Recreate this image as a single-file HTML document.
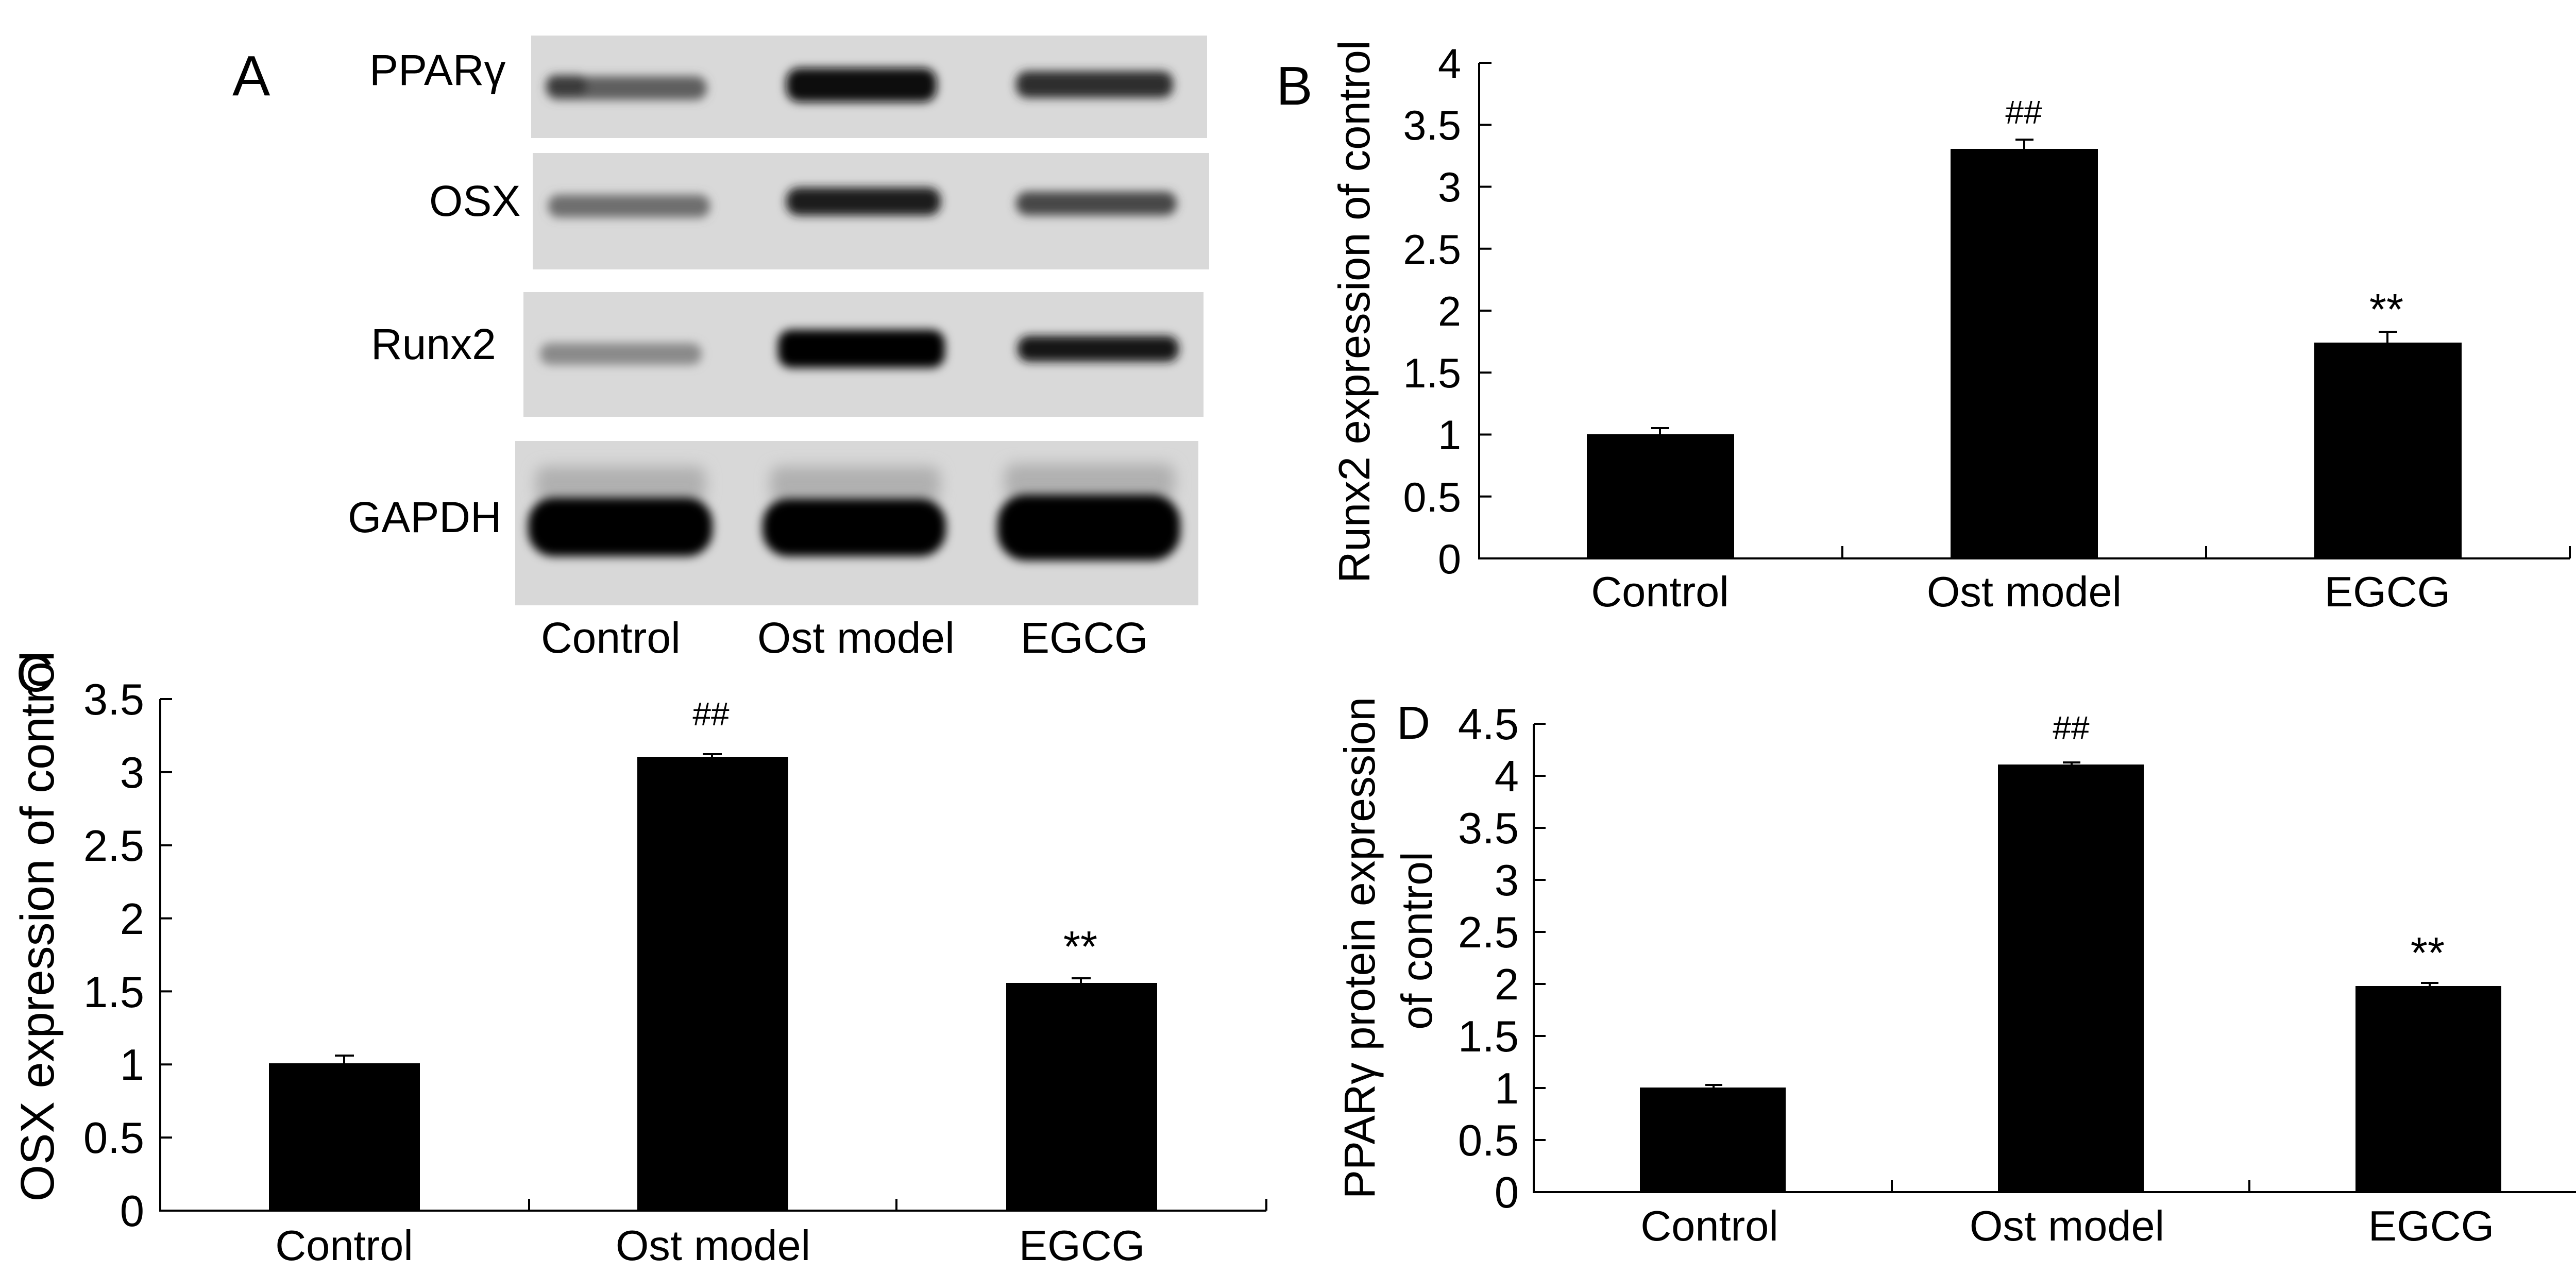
<!DOCTYPE html>
<html>
<head>
<meta charset="utf-8">
<style>
html,body{margin:0;padding:0;background:#fff;}
body{width:5100px;height:2473px;overflow:hidden;}
svg{display:block;}
text{font-family:"Liberation Sans",Arial,sans-serif;fill:#000;}
</style>
</head>
<body>
<svg width="5100" height="2473" viewBox="0 0 5100 2473" xmlns="http://www.w3.org/2000/svg">
<defs>
  <filter id="b1" x="-20%" y="-50%" width="140%" height="200%"><feGaussianBlur stdDeviation="9"/></filter>
  <filter id="b2" x="-20%" y="-80%" width="140%" height="260%"><feGaussianBlur stdDeviation="14"/></filter>
</defs>
<rect width="5100" height="2473" fill="#fff"/>

<!-- ============ PANEL A (blots) ============ -->
<text x="451" y="185" font-size="110">A</text>
<text x="717" y="165" font-size="84">PPARγ</text>
<text x="833" y="419" font-size="84">OSX</text>
<text x="720" y="697" font-size="84">Runx2</text>
<text x="675" y="1033" font-size="84">GAPDH</text>

<!-- strip 1 PPARg -->
<rect x="1031" y="69" width="1312" height="199" fill="#d9d9d9"/>
<g filter="url(#b1)">
  <rect x="1060" y="148" width="312" height="46" rx="22" fill="#5e5e5e"/>
  <rect x="1060" y="146" width="80" height="40" rx="18" fill="#3a3a3a"/>
  <rect x="1526" y="132" width="292" height="66" rx="26" fill="#0e0e0e"/>
  <rect x="1972" y="138" width="305" height="52" rx="22" fill="#2e2e2e"/>
</g>
<!-- strip 2 OSX -->
<rect x="1034" y="297" width="1313" height="226" fill="#d9d9d9"/>
<g filter="url(#b1)">
  <rect x="1064" y="378" width="314" height="44" rx="20" fill="#6e6e6e"/>
  <rect x="1526" y="364" width="300" height="54" rx="24" fill="#1c1c1c"/>
  <rect x="1972" y="372" width="312" height="46" rx="22" fill="#474747"/>
</g>
<!-- strip 3 Runx2 -->
<rect x="1016" y="567" width="1320" height="242" fill="#d9d9d9"/>
<g filter="url(#b1)">
  <rect x="1048" y="666" width="314" height="42" rx="20" fill="#8a8a8a"/>
  <rect x="1510" y="640" width="324" height="74" rx="26" fill="#050505"/>
  <rect x="1975" y="652" width="313" height="50" rx="22" fill="#161616"/>
</g>
<!-- strip 4 GAPDH -->
<rect x="1000" y="856" width="1326" height="319" fill="#d8d8d8"/>
<g filter="url(#b2)">
  <rect x="1040" y="905" width="330" height="70" rx="20" fill="#b0b0b0"/>
  <rect x="1495" y="905" width="330" height="70" rx="20" fill="#b0b0b0"/>
  <rect x="1950" y="900" width="330" height="70" rx="20" fill="#b0b0b0"/>
</g>
<g filter="url(#b1)">
  <rect x="1025" y="966" width="358" height="114" rx="50" fill="#000"/>
  <rect x="1480" y="968" width="356" height="112" rx="50" fill="#000"/>
  <rect x="1936" y="960" width="355" height="128" rx="55" fill="#000"/>
</g>

<text x="1050" y="1267" font-size="84">Control</text>
<text x="1470" y="1267" font-size="84">Ost model</text>
<text x="1981" y="1267" font-size="84">EGCG</text>

<!-- ============ PANEL B ============ -->
<text x="2477" y="203" font-size="106">B</text>
<text transform="translate(2658,605) rotate(-90)" text-anchor="middle" font-size="85">Runx2 expression of control</text>
<g stroke="#000" stroke-width="4" fill="none">
  <path d="M2871,122 V1084 H4988"/>
  <path d="M2871,122 h24 M2871,242.25 h24 M2871,362.5 h24 M2871,482.75 h24 M2871,603 h24 M2871,723.25 h24 M2871,843.5 h24 M2871,963.75 h24"/>
  <path d="M3576,1084 v-24 M4282,1084 v-24 M4988,1084 v-24"/>
</g>
<g font-size="81" text-anchor="end">
  <text x="2836" y="151">4</text>
  <text x="2836" y="271">3.5</text>
  <text x="2836" y="391">3</text>
  <text x="2836" y="512">2.5</text>
  <text x="2836" y="632">2</text>
  <text x="2836" y="752">1.5</text>
  <text x="2836" y="872">1</text>
  <text x="2836" y="993">0.5</text>
  <text x="2836" y="1113">0</text>
</g>
<g fill="#000">
  <rect x="3080" y="843" width="286" height="241"/>
  <rect x="3786" y="289" width="286" height="795"/>
  <rect x="4492" y="665" width="286" height="419"/>
</g>
<g stroke="#000" stroke-width="4" fill="none">
  <path d="M3222,843 V831 M3205,831 H3240"/>
  <path d="M3929,289 V271 M3912,271 H3947"/>
  <path d="M4634,665 V644 M4617,644 H4653"/>
</g>
<text x="3928" y="240" font-size="64" text-anchor="middle">##</text>
<text x="4632" y="630" font-size="85" text-anchor="middle">**</text>
<g font-size="83" text-anchor="middle">
  <text x="3222" y="1177">Control</text>
  <text x="3929" y="1177">Ost model</text>
  <text x="4634" y="1177">EGCG</text>
</g>

<!-- ============ PANEL C ============ -->
<text transform="translate(104,1798) rotate(-90)" text-anchor="middle" font-size="92">OSX expression of control</text>
<text x="31" y="1342" font-size="100">C</text>
<g stroke="#000" stroke-width="4" fill="none">
  <path d="M311,1357 V2350 H2458"/>
  <path d="M311,1357 h23 M311,1498.9 h23 M311,1640.7 h23 M311,1782.6 h23 M311,1924.4 h23 M311,2066.3 h23 M311,2208.1 h23"/>
  <path d="M1027,2350 v-23 M1740,2350 v-23 M2458,2350 v-23"/>
</g>
<g font-size="85" text-anchor="end">
  <text x="280" y="1387">3.5</text>
  <text x="280" y="1529">3</text>
  <text x="280" y="1671">2.5</text>
  <text x="280" y="1813">2</text>
  <text x="280" y="1955">1.5</text>
  <text x="280" y="2096">1</text>
  <text x="280" y="2238">0.5</text>
  <text x="280" y="2380">0</text>
</g>
<g fill="#000">
  <rect x="522" y="2064" width="293" height="286"/>
  <rect x="1237" y="1469" width="293" height="881"/>
  <rect x="1953" y="1908" width="293" height="442"/>
</g>
<g stroke="#000" stroke-width="4" fill="none">
  <path d="M668,2064 V2049 M650,2049 H687"/>
  <path d="M1382,1469 V1464 M1364,1464 H1401"/>
  <path d="M2098,1908 V1899 M2080,1899 H2117"/>
</g>
<text x="1380" y="1408" font-size="64" text-anchor="middle">##</text>
<text x="2097" y="1867" font-size="85" text-anchor="middle">**</text>
<g font-size="83" text-anchor="middle">
  <text x="668" y="2446">Control</text>
  <text x="1384" y="2446">Ost model</text>
  <text x="2100" y="2446">EGCG</text>
</g>

<!-- ============ PANEL D ============ -->
<text transform="translate(2668,1840) rotate(-90)" text-anchor="middle" font-size="84">PPARγ protein expression</text>
<text transform="translate(2779,1826) rotate(-90)" text-anchor="middle" font-size="84">of control</text>
<text x="2711" y="1434" font-size="90">D</text>
<g stroke="#000" stroke-width="4" fill="none">
  <path d="M2977,1405 V2314 H5061"/>
  <path d="M2977,1405 h23 M2977,1506 h23 M2977,1607 h23 M2977,1708 h23 M2977,1809 h23 M2977,1910 h23 M2977,2011 h23 M2977,2112 h23 M2977,2213 h23"/>
  <path d="M3672,2314 v-23 M4366,2314 v-23 M5061,2314 v-23"/>
</g>
<g font-size="85" text-anchor="end">
  <text x="2948" y="1435">4.5</text>
  <text x="2948" y="1536">4</text>
  <text x="2948" y="1637">3.5</text>
  <text x="2948" y="1738">3</text>
  <text x="2948" y="1839">2.5</text>
  <text x="2948" y="1940">2</text>
  <text x="2948" y="2041">1.5</text>
  <text x="2948" y="2142">1</text>
  <text x="2948" y="2243">0.5</text>
  <text x="2948" y="2344">0</text>
</g>
<g fill="#000">
  <rect x="3183" y="2111" width="283" height="203"/>
  <rect x="3878" y="1484" width="283" height="830"/>
  <rect x="4572" y="1914" width="283" height="400"/>
</g>
<g stroke="#000" stroke-width="4" fill="none">
  <path d="M3326,2111 V2106 M3310,2106 H3343"/>
  <path d="M4021,1484 V1480 M4004,1480 H4038"/>
  <path d="M4716,1914 V1908 M4699,1908 H4733"/>
</g>
<text x="4020" y="1435" font-size="64" text-anchor="middle">##</text>
<text x="4712" y="1879" font-size="85" text-anchor="middle">**</text>
<g font-size="83" text-anchor="middle">
  <text x="3318" y="2408">Control</text>
  <text x="4012" y="2408">Ost model</text>
  <text x="4719" y="2408">EGCG</text>
</g>
</svg>
</body>
</html>
